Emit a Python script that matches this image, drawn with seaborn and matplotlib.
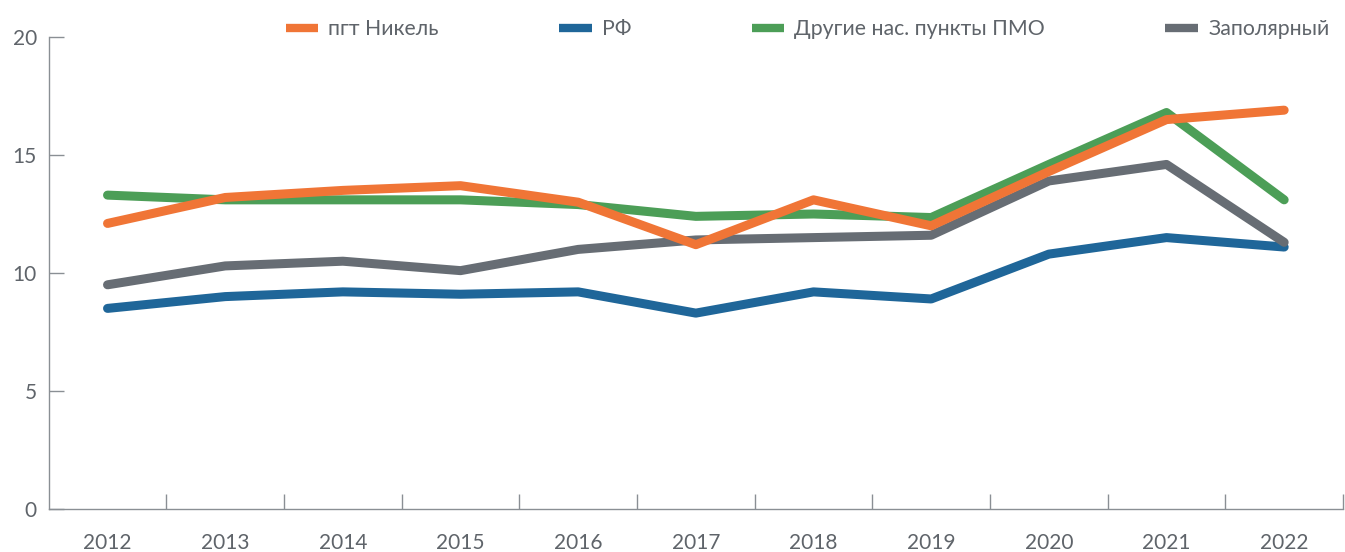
import matplotlib
matplotlib.use("Agg")
import matplotlib.pyplot as plt
import seaborn as sns
import pandas as pd
import numpy as np
from matplotlib.lines import Line2D

years = ["2012", "2013", "2014", "2015", "2016", "2017", "2018", "2019", "2020", "2021", "2022"]
nikel = [12.1, 13.2, 13.5, 13.7, 13.0, 11.2, 13.1, 12.0, 14.3, 16.5, 16.9]
rf = [8.5, 9.0, 9.2, 9.1, 9.2, 8.3, 9.2, 8.9, 10.8, 11.5, 11.1]
other_pmo = [13.3, 13.1, 13.1, 13.1, 12.9, 12.4, 12.5, 12.35, 14.6, 16.8, 13.1]
zapolyarny = [9.5, 10.3, 10.5, 10.1, 11.0, 11.4, 11.5, 11.6, 13.9, 14.6, 11.3]

labels = ["пгт Никель", "РФ", "Другие нас. пункты ПМО", "Заполярный"]
colors = {"пгт Никель": "#F07536", "РФ": "#1F6699",
          "Другие нас. пункты ПМО": "#4C9E57", "Заполярный": "#676D74"}
series = {"пгт Никель": nikel, "РФ": rf,
          "Другие нас. пункты ПМО": other_pmo, "Заполярный": zapolyarny}

sns.set_theme(style="white")
plt.rcParams['font.family'] = ['Lato', 'DejaVu Sans']

text_color = "#5F646A"
axis_color = "#8A8F94"

fig = plt.figure(figsize=(13.45, 5.52), dpi=100)
ax = fig.add_axes([48.7 / 1345, 43 / 552, (1343 - 48.7) / 1345, (509 - 37) / 552])

x = np.arange(len(years))
draw_order = ["РФ", "Заполярный", "Другие нас. пункты ПМО", "пгт Никель"]
for i, name in enumerate(draw_order):
    df = pd.DataFrame({"x": x, "y": series[name]})
    sns.lineplot(data=df, x="x", y="y", ax=ax, color=colors[name], linewidth=6.5,
                 solid_capstyle="round", solid_joinstyle="round", zorder=2 + i, legend=False)

ax.set_xlim(-0.5, 10.5)
ax.set_ylim(0, 20)
ax.set_yticks([0, 5, 10, 15, 20])
ax.set_xticks(x)
ax.set_xticklabels(years)
ax.set_xticks(np.arange(0.5, 10.6, 1.0), minor=True)
ax.set_xlabel("")
ax.set_ylabel("")

for side in ["top", "right"]:
    ax.spines[side].set_visible(False)
for side in ["left", "bottom"]:
    ax.spines[side].set_color(axis_color)
    ax.spines[side].set_linewidth(1.0)

ax.tick_params(axis="x", which="major", length=0, pad=17, labelsize=15, labelcolor=text_color)
ax.tick_params(axis="x", which="minor", length=11, direction="in", width=1.0, color=axis_color, bottom=True)
ax.tick_params(axis="y", which="major", length=11, direction="in", width=1.0, color=axis_color,
               left=True, pad=8.5, labelsize=15, labelcolor=text_color)
ax.grid(False)

handles = [Line2D([0], [0], color=colors[n], linewidth=6, solid_capstyle="butt") for n in labels]
leg = fig.legend(handles, labels, loc="center", bbox_to_anchor=(807.5 / 1345, (552 - 29) / 552),
                 ncol=4, frameon=False, fontsize=15.3, handlelength=1.55, handletextpad=0.47,
                 columnspacing=5.65, borderpad=0)
for t in leg.get_texts():
    t.set_color(text_color)

fig.savefig("out.png", dpi=100)
